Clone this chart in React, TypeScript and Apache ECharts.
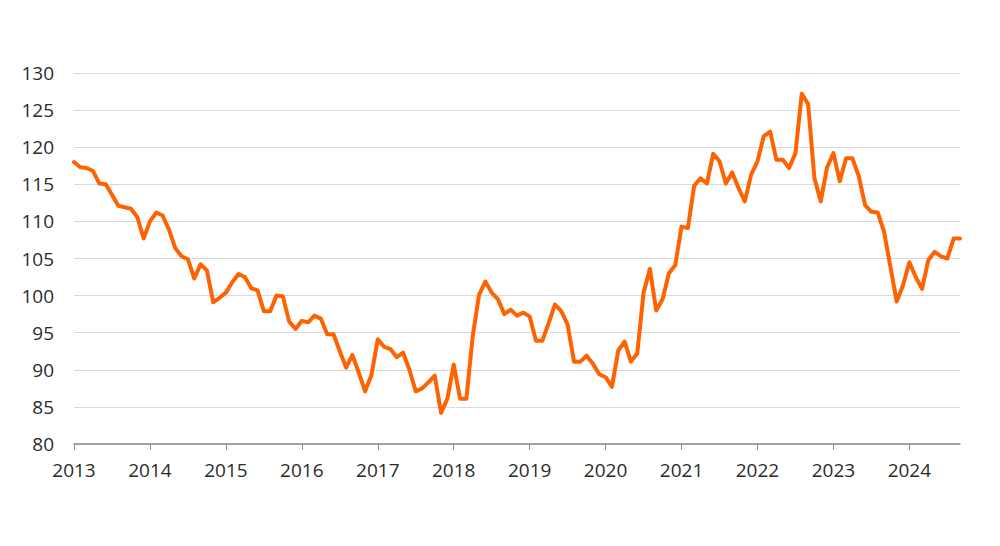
import React, { useEffect, useRef } from "react";
import * as echarts from "echarts";

const startYear = 2013;
const yTicks = [80, 85, 90, 95, 100, 105, 110, 115, 120, 125, 130];
const values: number[] = [
  // 2013
  118.0, 117.3, 117.2, 116.8, 115.1, 115.0, 113.6, 112.1, 111.9, 111.7, 110.6, 107.7,
  // 2014
  110.0, 111.2, 110.8, 108.9, 106.4, 105.3, 104.9, 102.3, 104.2, 103.4, 99.1, 99.7,
  // 2015
  100.4, 101.8, 102.9, 102.5, 101.0, 100.7, 97.9, 97.9, 100.0, 99.9, 96.5, 95.5,
  // 2016
  96.6, 96.4, 97.3, 96.9, 94.8, 94.8, 92.5, 90.3, 92.0, 89.6, 87.1, 89.3,
  // 2017
  94.1, 93.1, 92.8, 91.7, 92.3, 90.0, 87.1, 87.5, 88.3, 89.2, 84.2, 86.1,
  // 2018
  90.7, 86.1, 86.1, 94.5, 100.1, 101.9, 100.4, 99.5, 97.5, 98.1, 97.3, 97.7,
  // 2019
  97.2, 93.9, 93.9, 96.3, 98.8, 97.9, 96.1, 91.1, 91.1, 91.9, 90.8, 89.4,
  // 2020
  89.0, 87.7, 92.6, 93.8, 91.1, 92.2, 100.4, 103.6, 98.0, 99.5, 103.0, 104.1,
  // 2021
  109.3, 109.1, 114.8, 115.8, 115.1, 119.1, 118.1, 115.1, 116.6, 114.5, 112.7, 116.3,
  // 2022
  118.1, 121.5, 122.1, 118.3, 118.3, 117.2, 119.2, 127.2, 125.8, 115.8, 112.7, 117.3,
  // 2023
  119.2, 115.4, 118.5, 118.5, 116.1, 112.2, 111.3, 111.2, 108.6, 103.9, 99.2, 101.4,
  // 2024
  104.5, 102.5, 100.9, 104.8, 105.9, 105.3, 105.0, 107.7, 107.7,
];

const categories: string[] = values.map((_, i) => {
  const y = startYear + Math.floor(i / 12);
  const m = (i % 12) + 1;
  return `${y}-${m < 10 ? "0" + m : m}`;
});

export default function App() {
  const ref = useRef<HTMLDivElement>(null);
  useEffect(() => {
    document.body.style.margin = "0";
    if (!ref.current) return;
    const chart = echarts.init(ref.current, undefined, { renderer: "svg" });
    const font = "'Open Sans', 'Noto Sans', sans-serif";
    chart.setOption({
      animation: false,
      backgroundColor: "#ffffff",
      grid: { left: 74, right: 40, top: 73, bottom: 102, containLabel: false },
      xAxis: {
        type: "category",
        data: categories,
        boundaryGap: false,
        axisLine: { show: true, lineStyle: { color: "#8c8c8c", width: 1.5 } },
        axisTick: {
          show: true,
          length: 6,
          interval: (idx: number) => idx % 12 === 0,
          lineStyle: { color: "#8c8c8c", width: 1 },
        },
        axisLabel: {
          interval: (idx: number) => idx % 12 === 0,
          formatter: (v: string) => v.slice(0, 4),
          color: "#2b2b2b",
          fontSize: 19,
          fontFamily: font,
          margin: 16,
        },
        splitLine: { show: false },
      },
      yAxis: {
        type: "value",
        min: yTicks[0],
        max: yTicks[yTicks.length - 1],
        interval: 5,
        axisLine: { show: false },
        axisTick: { show: false },
        axisLabel: {
          color: "#2b2b2b",
          fontSize: 19,
          fontFamily: font,
          margin: 20,
        },
        splitLine: { show: true, lineStyle: { color: "#d9d9d9", width: 1 } },
      },
      series: [
        {
          type: "line",
          data: values,
          showSymbol: false,
          symbol: "none",
          lineStyle: { color: "#ff6200", width: 4, join: "round", cap: "round" },
          itemStyle: { color: "#ff6200" },
        },
      ],
    });
    return () => chart.dispose();
  }, []);
  return <div ref={ref} style={{ width: 1000, height: 546 }} />;
}
